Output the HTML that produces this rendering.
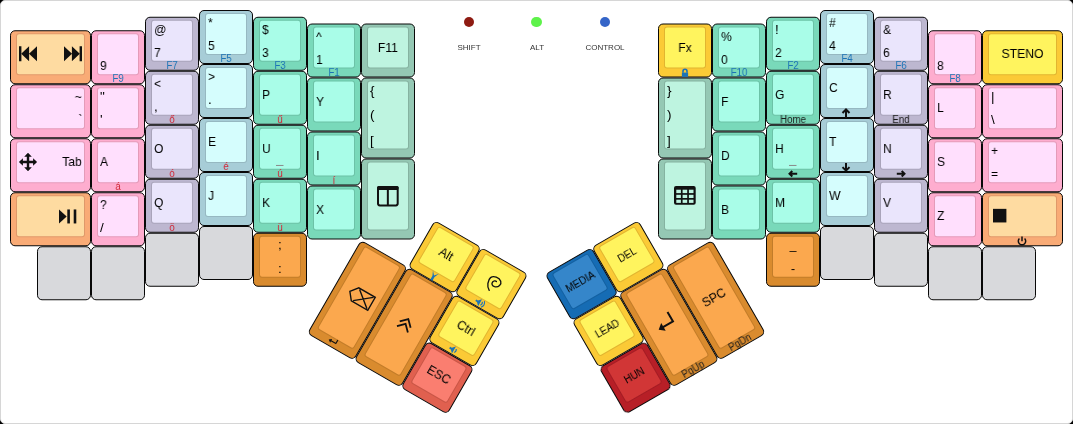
<!DOCTYPE html>
<html><head><meta charset="utf-8"><style>
html,body{margin:0;padding:0;background:#000;width:1073px;height:424px;overflow:hidden}
.bg{position:absolute;left:0;top:0;width:1073px;height:424px;box-sizing:border-box;background:#fff;border:1px solid #d6d6d6;border-radius:5px}
.k{position:absolute;box-sizing:border-box;border:1px solid #080808;border-radius:5px}
.k .t{position:absolute;left:5px;top:2px;right:5px;bottom:8px;border:1px solid rgba(0,0,0,.1);border-radius:3px;background-clip:padding-box}
.lg{position:absolute;will-change:transform;font-family:"Liberation Sans",sans-serif;font-size:13.5px;line-height:16px;color:#000;white-space:nowrap}
.lg{transform:scaleX(.9);transform-origin:0 0}
.lg.r{transform-origin:100% 0}
.lg.c{text-align:center;transform-origin:50% 0}
.lg.s{font-size:10px;line-height:12px;transform:none}
.lg.f{font-size:10px;line-height:12px;transform:scaleX(.97)}
.kl{position:absolute;box-sizing:border-box;border:1px solid transparent}
.rot{position:absolute;width:0;height:0;transform-origin:0 0}
.dot{position:absolute;width:10.5px;height:10.5px;border-radius:50%}
.dl{position:absolute;will-change:transform;width:80px;text-align:center;font-family:"Liberation Sans",sans-serif;font-size:8px;color:#333}
</style></head><body><div class="bg"></div>
<div class="dot" style="left:463.75px;top:16.55px;background:#8e1b12"></div><div class="dl" style="left:429px;top:43px">SHIFT</div>
<div class="dot" style="left:531.25px;top:16.55px;background:#5ef24a"></div><div class="dl" style="left:496.5px;top:43px">ALT</div>
<div class="dot" style="left:599.75px;top:16.55px;background:#3565c8"></div><div class="dl" style="left:565px;top:43px">CONTROL</div>
<div class="k" style="left:10px;top:30px;width:81px;height:54px;background:#f9ab76;transform:translateY(0.25px)"><div class="t" style="background-color:#fedba1"></div><svg style="position:absolute;left:-1px;top:-1px" width="81" height="54" viewBox="0 0 81 54"><g fill="#111"><rect x="9" y="16" width="2.4" height="15"/><path d="M11.2 23.5 L19.1 16 V31 Z M19 23.5 L27 16 V31 Z"/><rect x="69.6" y="16" width="2.4" height="15"/><path d="M69.8 23.5 L61.9 16 V31 Z M62 23.5 L54 16 V31 Z"/></g></svg></div>
<div class="k" style="left:10px;top:84px;width:81px;height:54px;background:#feadcf;transform:translateY(0.25px)"><div class="t" style="background-color:#ffdffd"></div></div>
<div class="kl" style="left:10px;top:84px;width:81px;height:54px"><span class="lg r" style="right:8px;top:4.25px">~</span><span class="lg r" style="right:8px;top:27.25px">`</span></div>
<div class="k" style="left:10px;top:138px;width:81px;height:54px;background:#feadcf;transform:translateY(0.25px)"><div class="t" style="background-color:#ffdffd"></div><svg style="position:absolute;left:-1px;top:-1px" width="81" height="54" viewBox="0 0 81 54"><g fill="#111"><path d="M18 16.5 V31 M10.8 23.7 H25.2" stroke="#111" stroke-width="2.4"/><path d="M18 14.6 L14.2 18.6 H21.8 Z M18 32.9 L14.2 28.9 H21.8 Z M8.9 23.7 L12.9 19.9 V27.5 Z M27.1 23.7 L23.1 19.9 V27.5 Z"/></g></svg></div>
<div class="kl" style="left:10px;top:138px;width:81px;height:54px"><span class="lg r" style="right:8px;top:15.45px">Tab</span></div>
<div class="k" style="left:10px;top:192px;width:81px;height:54px;background:#f9ab76;transform:translateY(0.25px)"><div class="t" style="background-color:#fedba1"></div><svg style="position:absolute;left:-1px;top:-1px" width="81" height="54" viewBox="0 0 81 54"><g fill="#111"><path d="M49 17.2 L56.7 24.2 L49 31.2 Z"/><rect x="57.3" y="17.2" width="2.6" height="14"/><rect x="63.7" y="17.2" width="2.6" height="14"/></g></svg></div>
<div class="k" style="left:37px;top:246px;width:54px;height:54px;background:#d8d9dc;transform:translateY(0.25px)"></div>
<div class="k" style="left:91px;top:30px;width:54px;height:54px;background:#feadcf;transform:translateY(0.25px)"><div class="t" style="background-color:#ffdffd"></div></div>
<div class="kl" style="left:91px;top:30px;width:54px;height:54px"><span class="lg" style="left:8px;top:27.25px">9</span><span class="lg c f" style="left:0;width:52px;top:42.25px;color:#1c74b6">F9</span></div>
<div class="k" style="left:91px;top:84px;width:54px;height:54px;background:#feadcf;transform:translateY(0.25px)"><div class="t" style="background-color:#ffdffd"></div></div>
<div class="kl" style="left:91px;top:84px;width:54px;height:54px"><span class="lg" style="left:8px;top:4.25px">"</span><span class="lg" style="left:8px;top:27.25px">'</span></div>
<div class="k" style="left:91px;top:138px;width:54px;height:54px;background:#feadcf;transform:translateY(0.25px)"><div class="t" style="background-color:#ffdffd"></div></div>
<div class="kl" style="left:91px;top:138px;width:54px;height:54px"><span class="lg" style="left:8px;top:15.45px">A</span><span class="lg c f" style="left:0;width:52px;top:42.25px;color:#d02a3a">á</span></div>
<div class="k" style="left:91px;top:192px;width:54px;height:54px;background:#feadcf;transform:translateY(0.25px)"><div class="t" style="background-color:#ffdffd"></div></div>
<div class="kl" style="left:91px;top:192px;width:54px;height:54px"><span class="lg" style="left:8px;top:4.25px">?</span><span class="lg" style="left:8px;top:27.25px">/</span></div>
<div class="k" style="left:91px;top:246px;width:54px;height:54px;background:#d8d9dc;transform:translateY(0.25px)"></div>
<div class="k" style="left:145px;top:16px;width:54px;height:54px;background:#bdb7d0;transform:translateY(0.75px)"><div class="t" style="background-color:#eae5fc"></div></div>
<div class="kl" style="left:145px;top:16px;width:54px;height:54px"><span class="lg" style="left:8px;top:4.75px">@</span><span class="lg" style="left:8px;top:27.75px">7</span><span class="lg c f" style="left:0;width:52px;top:42.75px;color:#1c74b6">F7</span></div>
<div class="k" style="left:145px;top:70px;width:54px;height:54px;background:#bdb7d0;transform:translateY(0.75px)"><div class="t" style="background-color:#eae5fc"></div></div>
<div class="kl" style="left:145px;top:70px;width:54px;height:54px"><span class="lg" style="left:8px;top:4.75px">&lt;</span><span class="lg" style="left:8px;top:27.75px">,</span><span class="lg c f" style="left:0;width:52px;top:42.75px;color:#d02a3a">ő</span></div>
<div class="k" style="left:145px;top:124px;width:54px;height:54px;background:#bdb7d0;transform:translateY(0.75px)"><div class="t" style="background-color:#eae5fc"></div></div>
<div class="kl" style="left:145px;top:124px;width:54px;height:54px"><span class="lg" style="left:8px;top:15.95px">O</span><span class="lg c f" style="left:0;width:52px;top:42.75px;color:#d02a3a">ó</span></div>
<div class="k" style="left:145px;top:178px;width:54px;height:54px;background:#bdb7d0;transform:translateY(0.75px)"><div class="t" style="background-color:#eae5fc"></div></div>
<div class="kl" style="left:145px;top:178px;width:54px;height:54px"><span class="lg" style="left:8px;top:15.95px">Q</span><span class="lg c f" style="left:0;width:52px;top:42.75px;color:#d02a3a">ö</span></div>
<div class="k" style="left:145px;top:232px;width:54px;height:54px;background:#d8d9dc;transform:translateY(0.75px)"></div>
<div class="k" style="left:199px;top:10px;width:54px;height:54px;background:#a7cdd7"><div class="t" style="background-color:#d5fdfd"></div></div>
<div class="kl" style="left:199px;top:10px;width:54px;height:54px"><span class="lg" style="left:8px;top:4px">*</span><span class="lg" style="left:8px;top:27px">5</span><span class="lg c f" style="left:0;width:52px;top:42px;color:#1c74b6">F5</span></div>
<div class="k" style="left:199px;top:64px;width:54px;height:54px;background:#a7cdd7"><div class="t" style="background-color:#d5fdfd"></div></div>
<div class="kl" style="left:199px;top:64px;width:54px;height:54px"><span class="lg" style="left:8px;top:4px">&gt;</span><span class="lg" style="left:8px;top:27px">.</span></div>
<div class="k" style="left:199px;top:118px;width:54px;height:54px;background:#a7cdd7"><div class="t" style="background-color:#d5fdfd"></div></div>
<div class="kl" style="left:199px;top:118px;width:54px;height:54px"><span class="lg" style="left:8px;top:15.2px">E</span><span class="lg c f" style="left:0;width:52px;top:42px;color:#d02a3a">é</span></div>
<div class="k" style="left:199px;top:172px;width:54px;height:54px;background:#a7cdd7"><div class="t" style="background-color:#d5fdfd"></div></div>
<div class="kl" style="left:199px;top:172px;width:54px;height:54px"><span class="lg" style="left:8px;top:15.2px">J</span></div>
<div class="k" style="left:199px;top:226px;width:54px;height:54px;background:#d8d9dc"></div>
<div class="k" style="left:253px;top:16px;width:54px;height:54px;background:#79d9ba;transform:translateY(0.75px)"><div class="t" style="background-color:#a9fde8"></div></div>
<div class="kl" style="left:253px;top:16px;width:54px;height:54px"><span class="lg" style="left:8px;top:4.75px">$</span><span class="lg" style="left:8px;top:27.75px">3</span><span class="lg c f" style="left:0;width:52px;top:42.75px;color:#1c74b6">F3</span></div>
<div class="k" style="left:253px;top:70px;width:54px;height:54px;background:#79d9ba;transform:translateY(0.75px)"><div class="t" style="background-color:#a9fde8"></div></div>
<div class="kl" style="left:253px;top:70px;width:54px;height:54px"><span class="lg" style="left:8px;top:15.95px">P</span><span class="lg c f" style="left:0;width:52px;top:42.75px;color:#d02a3a">ű</span></div>
<div class="k" style="left:253px;top:124px;width:54px;height:54px;background:#79d9ba;transform:translateY(0.75px)"><div class="t" style="background-color:#a9fde8"></div><svg style="position:absolute;left:-1px;top:-1px" width="54" height="54" viewBox="0 0 54 54"><rect x="23" y="40.2" width="7.5" height="1" fill="#8a8a8a"/></svg></div>
<div class="kl" style="left:253px;top:124px;width:54px;height:54px"><span class="lg" style="left:8px;top:15.95px">U</span><span class="lg c f" style="left:0;width:52px;top:42.75px;color:#d02a3a">ú</span></div>
<div class="k" style="left:253px;top:178px;width:54px;height:54px;background:#79d9ba;transform:translateY(0.75px)"><div class="t" style="background-color:#a9fde8"></div></div>
<div class="kl" style="left:253px;top:178px;width:54px;height:54px"><span class="lg" style="left:8px;top:15.95px">K</span><span class="lg c f" style="left:0;width:52px;top:42.75px;color:#d02a3a">ü</span></div>
<div class="k" style="left:253px;top:232px;width:54px;height:54px;background:#d98b2e;transform:translateY(0.75px)"><div class="t" style="background-color:#fba84e"></div></div>
<div class="kl" style="left:253px;top:232px;width:54px;height:54px"><span class="lg c" style="left:0;width:52px;top:4.25px">;</span><span class="lg c" style="left:0;width:52px;top:27.75px">:</span></div>
<div class="k" style="left:307px;top:23px;width:54px;height:54px;background:#79d9ba;transform:translateY(0.5px)"><div class="t" style="background-color:#a9fde8"></div></div>
<div class="kl" style="left:307px;top:23px;width:54px;height:54px"><span class="lg" style="left:8px;top:4.5px">^</span><span class="lg" style="left:8px;top:27.5px">1</span><span class="lg c f" style="left:0;width:52px;top:42.5px;color:#1c74b6">F1</span></div>
<div class="k" style="left:307px;top:77px;width:54px;height:54px;background:#79d9ba;transform:translateY(0.5px)"><div class="t" style="background-color:#a9fde8"></div></div>
<div class="kl" style="left:307px;top:77px;width:54px;height:54px"><span class="lg" style="left:8px;top:15.7px">Y</span></div>
<div class="k" style="left:307px;top:131px;width:54px;height:54px;background:#79d9ba;transform:translateY(0.5px)"><div class="t" style="background-color:#a9fde8"></div></div>
<div class="kl" style="left:307px;top:131px;width:54px;height:54px"><span class="lg" style="left:8px;top:15.7px">I</span><span class="lg c f" style="left:0;width:52px;top:42.5px;color:#d02a3a">í</span></div>
<div class="k" style="left:307px;top:185px;width:54px;height:54px;background:#79d9ba;transform:translateY(0.5px)"><div class="t" style="background-color:#a9fde8"></div></div>
<div class="kl" style="left:307px;top:185px;width:54px;height:54px"><span class="lg" style="left:8px;top:15.7px">X</span></div>
<div class="k" style="left:361px;top:23px;width:54px;height:54px;background:#95c8b4;transform:translateY(0.5px)"><div class="t" style="background-color:#bef4e0"></div></div>
<div class="kl" style="left:361px;top:23px;width:54px;height:54px"><span class="lg c" style="left:0;width:52px;top:15.7px">F11</span></div>
<div class="k" style="left:361px;top:77px;width:54px;height:81px;background:#95c8b4;transform:translateY(0.5px)"><div class="t" style="background-color:#bef4e0"></div></div>
<div class="kl" style="left:361px;top:77px;width:54px;height:81px"><span class="lg" style="left:8px;top:4.5px">{</span><span class="lg" style="left:8px;top:29.2px">(</span><span class="lg" style="left:8px;top:54.5px">[</span></div>
<div class="k" style="left:361px;top:158px;width:54px;height:81px;background:#95c8b4;transform:translateY(0.5px)"><div class="t" style="background-color:#bef4e0"></div><svg style="position:absolute;left:-1px;top:-1px" width="54" height="81" viewBox="0 0 54 81"><g fill="none" stroke="#111" stroke-width="2"><rect x="17" y="28.5" width="19.7" height="18.4" rx="1.8"/><path d="M26.85 29 V46.5 M17 30.5 H36.7" /></g><rect x="16" y="27.5" width="21.7" height="3.2" rx="1.5" fill="#111"/></svg></div>
<div class="k" style="left:658px;top:23px;width:54px;height:54px;background:#fbca36;transform:translateY(0.5px)"><div class="t" style="background-color:#fff45e"></div><svg style="position:absolute;left:-1px;top:-1px" width="54" height="54" viewBox="0 0 54 54"><g fill="#1c74b6"><rect x="23.9" y="49.1" width="6.2" height="4.3"/><path d="M25 49.3 V47.8 A2 2 0 0 1 29 47.8 V49.3" fill="none" stroke="#1c74b6" stroke-width="1.6"/></g></svg></div>
<div class="kl" style="left:658px;top:23px;width:54px;height:54px"><span class="lg c" style="left:0;width:52px;top:15.7px">Fx</span></div>
<div class="k" style="left:658px;top:77px;width:54px;height:81px;background:#95c8b4;transform:translateY(0.5px)"><div class="t" style="background-color:#bef4e0"></div></div>
<div class="kl" style="left:658px;top:77px;width:54px;height:81px"><span class="lg" style="left:8px;top:4.5px">}</span><span class="lg" style="left:8px;top:29.2px">)</span><span class="lg" style="left:8px;top:54.5px">]</span></div>
<div class="k" style="left:658px;top:158px;width:54px;height:81px;background:#95c8b4;transform:translateY(0.5px)"><div class="t" style="background-color:#bef4e0"></div><svg style="position:absolute;left:-1px;top:-1px" width="54" height="81" viewBox="0 0 54 81"><rect x="16" y="27.5" width="21.7" height="18.8" rx="2" fill="#111"/><g fill="#bef4e0"><rect x="18.3" y="31.2" width="4.6" height="3.4"/><rect x="24.6" y="31.2" width="4.6" height="3.4"/><rect x="30.9" y="31.2" width="4.6" height="3.4"/><rect x="18.3" y="36.3" width="4.6" height="3.2"/><rect x="24.6" y="36.3" width="4.6" height="3.2"/><rect x="30.9" y="36.3" width="4.6" height="3.2"/><rect x="18.3" y="41.2" width="4.6" height="3.2"/><rect x="24.6" y="41.2" width="4.6" height="3.2"/><rect x="30.9" y="41.2" width="4.6" height="3.2"/></g></svg></div>
<div class="k" style="left:712px;top:23px;width:54px;height:54px;background:#79d9ba;transform:translateY(0.5px)"><div class="t" style="background-color:#a9fde8"></div></div>
<div class="kl" style="left:712px;top:23px;width:54px;height:54px"><span class="lg" style="left:8px;top:4.5px">%</span><span class="lg" style="left:8px;top:27.5px">0</span><span class="lg c f" style="left:0;width:52px;top:42.5px;color:#1c74b6">F10</span></div>
<div class="k" style="left:712px;top:77px;width:54px;height:54px;background:#79d9ba;transform:translateY(0.5px)"><div class="t" style="background-color:#a9fde8"></div></div>
<div class="kl" style="left:712px;top:77px;width:54px;height:54px"><span class="lg" style="left:8px;top:15.7px">F</span></div>
<div class="k" style="left:712px;top:131px;width:54px;height:54px;background:#79d9ba;transform:translateY(0.5px)"><div class="t" style="background-color:#a9fde8"></div></div>
<div class="kl" style="left:712px;top:131px;width:54px;height:54px"><span class="lg" style="left:8px;top:15.7px">D</span></div>
<div class="k" style="left:712px;top:185px;width:54px;height:54px;background:#79d9ba;transform:translateY(0.5px)"><div class="t" style="background-color:#a9fde8"></div></div>
<div class="kl" style="left:712px;top:185px;width:54px;height:54px"><span class="lg" style="left:8px;top:15.7px">B</span></div>
<div class="k" style="left:766px;top:16px;width:54px;height:54px;background:#79d9ba;transform:translateY(0.75px)"><div class="t" style="background-color:#a9fde8"></div></div>
<div class="kl" style="left:766px;top:16px;width:54px;height:54px"><span class="lg" style="left:8px;top:4.75px">!</span><span class="lg" style="left:8px;top:27.75px">2</span><span class="lg c f" style="left:0;width:52px;top:42.75px;color:#1c74b6">F2</span></div>
<div class="k" style="left:766px;top:70px;width:54px;height:54px;background:#79d9ba;transform:translateY(0.75px)"><div class="t" style="background-color:#a9fde8"></div></div>
<div class="kl" style="left:766px;top:70px;width:54px;height:54px"><span class="lg" style="left:8px;top:15.95px">G</span><span class="lg c f" style="left:0;width:52px;top:42.75px;color:#1a1a1a">Home</span></div>
<div class="k" style="left:766px;top:124px;width:54px;height:54px;background:#79d9ba;transform:translateY(0.75px)"><div class="t" style="background-color:#a9fde8"></div><svg style="position:absolute;left:-1px;top:-1px" width="54" height="54" viewBox="0 0 54 54"><rect x="23" y="40.2" width="7.5" height="1" fill="#8a8a8a"/></svg><svg style="position:absolute;left:-1px;top:-1px" width="54" height="54" viewBox="0 0 54 54"><path d="M23.5 49 H31.2 M26.3 46.2 L23.5 49 L26.3 51.8" fill="none" stroke="#111" stroke-width="2"/></svg></div>
<div class="kl" style="left:766px;top:124px;width:54px;height:54px"><span class="lg" style="left:8px;top:15.95px">H</span></div>
<div class="k" style="left:766px;top:178px;width:54px;height:54px;background:#79d9ba;transform:translateY(0.75px)"><div class="t" style="background-color:#a9fde8"></div></div>
<div class="kl" style="left:766px;top:178px;width:54px;height:54px"><span class="lg" style="left:8px;top:15.95px">M</span></div>
<div class="k" style="left:766px;top:232px;width:54px;height:54px;background:#d98b2e;transform:translateY(0.75px)"><div class="t" style="background-color:#fba84e"></div></div>
<div class="kl" style="left:766px;top:232px;width:54px;height:54px"><span class="lg c" style="left:0;width:52px;top:4.25px">_</span><span class="lg c" style="left:0;width:52px;top:27.75px">-</span></div>
<div class="k" style="left:820px;top:10px;width:54px;height:54px;background:#a7cdd7"><div class="t" style="background-color:#d5fdfd"></div></div>
<div class="kl" style="left:820px;top:10px;width:54px;height:54px"><span class="lg" style="left:8px;top:4px">#</span><span class="lg" style="left:8px;top:27px">4</span><span class="lg c f" style="left:0;width:52px;top:42px;color:#1c74b6">F4</span></div>
<div class="k" style="left:820px;top:64px;width:54px;height:54px;background:#a7cdd7"><div class="t" style="background-color:#d5fdfd"></div><svg style="position:absolute;left:-1px;top:-1px" width="54" height="54" viewBox="0 0 54 54"><path d="M26 54 V45.5 M22.5 49 L26 45.5 L29.5 49" fill="none" stroke="#111" stroke-width="2"/></svg></div>
<div class="kl" style="left:820px;top:64px;width:54px;height:54px"><span class="lg" style="left:8px;top:15.2px">C</span></div>
<div class="k" style="left:820px;top:118px;width:54px;height:54px;background:#a7cdd7"><div class="t" style="background-color:#d5fdfd"></div><svg style="position:absolute;left:-1px;top:-1px" width="54" height="54" viewBox="0 0 54 54"><path d="M26 44.9 V52.6 M22.5 49.1 L26 52.6 L29.5 49.1" fill="none" stroke="#111" stroke-width="2"/></svg></div>
<div class="kl" style="left:820px;top:118px;width:54px;height:54px"><span class="lg" style="left:8px;top:15.2px">T</span></div>
<div class="k" style="left:820px;top:172px;width:54px;height:54px;background:#a7cdd7"><div class="t" style="background-color:#d5fdfd"></div></div>
<div class="kl" style="left:820px;top:172px;width:54px;height:54px"><span class="lg" style="left:8px;top:15.2px">W</span></div>
<div class="k" style="left:820px;top:226px;width:54px;height:54px;background:#d8d9dc"></div>
<div class="k" style="left:874px;top:16px;width:54px;height:54px;background:#bdb7d0;transform:translateY(0.75px)"><div class="t" style="background-color:#eae5fc"></div></div>
<div class="kl" style="left:874px;top:16px;width:54px;height:54px"><span class="lg" style="left:8px;top:4.75px">&amp;</span><span class="lg" style="left:8px;top:27.75px">6</span><span class="lg c f" style="left:0;width:52px;top:42.75px;color:#1c74b6">F6</span></div>
<div class="k" style="left:874px;top:70px;width:54px;height:54px;background:#bdb7d0;transform:translateY(0.75px)"><div class="t" style="background-color:#eae5fc"></div></div>
<div class="kl" style="left:874px;top:70px;width:54px;height:54px"><span class="lg" style="left:8px;top:15.95px">R</span><span class="lg c f" style="left:0;width:52px;top:42.75px;color:#1a1a1a">End</span></div>
<div class="k" style="left:874px;top:124px;width:54px;height:54px;background:#bdb7d0;transform:translateY(0.75px)"><div class="t" style="background-color:#eae5fc"></div><svg style="position:absolute;left:-1px;top:-1px" width="54" height="54" viewBox="0 0 54 54"><path d="M22.8 49 H30.5 M27.7 46.2 L30.5 49 L27.7 51.8" fill="none" stroke="#111" stroke-width="2"/></svg></div>
<div class="kl" style="left:874px;top:124px;width:54px;height:54px"><span class="lg" style="left:8px;top:15.95px">N</span></div>
<div class="k" style="left:874px;top:178px;width:54px;height:54px;background:#bdb7d0;transform:translateY(0.75px)"><div class="t" style="background-color:#eae5fc"></div></div>
<div class="kl" style="left:874px;top:178px;width:54px;height:54px"><span class="lg" style="left:8px;top:15.95px">V</span></div>
<div class="k" style="left:874px;top:232px;width:54px;height:54px;background:#d8d9dc;transform:translateY(0.75px)"></div>
<div class="k" style="left:928px;top:30px;width:54px;height:54px;background:#feadcf;transform:translateY(0.25px)"><div class="t" style="background-color:#ffdffd"></div></div>
<div class="kl" style="left:928px;top:30px;width:54px;height:54px"><span class="lg" style="left:8px;top:27.25px">8</span><span class="lg c f" style="left:0;width:52px;top:42.25px;color:#1c74b6">F8</span></div>
<div class="k" style="left:928px;top:84px;width:54px;height:54px;background:#feadcf;transform:translateY(0.25px)"><div class="t" style="background-color:#ffdffd"></div></div>
<div class="kl" style="left:928px;top:84px;width:54px;height:54px"><span class="lg" style="left:8px;top:15.45px">L</span></div>
<div class="k" style="left:928px;top:138px;width:54px;height:54px;background:#feadcf;transform:translateY(0.25px)"><div class="t" style="background-color:#ffdffd"></div></div>
<div class="kl" style="left:928px;top:138px;width:54px;height:54px"><span class="lg" style="left:8px;top:15.45px">S</span></div>
<div class="k" style="left:928px;top:192px;width:54px;height:54px;background:#feadcf;transform:translateY(0.25px)"><div class="t" style="background-color:#ffdffd"></div></div>
<div class="kl" style="left:928px;top:192px;width:54px;height:54px"><span class="lg" style="left:8px;top:15.45px">Z</span></div>
<div class="k" style="left:928px;top:246px;width:54px;height:54px;background:#d8d9dc;transform:translateY(0.25px)"></div>
<div class="k" style="left:982px;top:30px;width:81px;height:54px;background:#fbca36;transform:translateY(0.25px)"><div class="t" style="background-color:#fff45e"></div></div>
<div class="kl" style="left:982px;top:30px;width:81px;height:54px"><span class="lg c" style="left:0;width:79.0px;top:15.45px">STENO</span></div>
<div class="k" style="left:982px;top:84px;width:81px;height:54px;background:#feadcf;transform:translateY(0.25px)"><div class="t" style="background-color:#ffdffd"></div></div>
<div class="kl" style="left:982px;top:84px;width:81px;height:54px"><span class="lg" style="left:8px;top:4.25px">|</span><span class="lg" style="left:8px;top:27.25px">\</span></div>
<div class="k" style="left:982px;top:138px;width:81px;height:54px;background:#feadcf;transform:translateY(0.25px)"><div class="t" style="background-color:#ffdffd"></div></div>
<div class="kl" style="left:982px;top:138px;width:81px;height:54px"><span class="lg" style="left:8px;top:4.25px">+</span><span class="lg" style="left:8px;top:27.25px">=</span></div>
<div class="k" style="left:982px;top:192px;width:81px;height:54px;background:#f9ab76;transform:translateY(0.25px)"><div class="t" style="background-color:#fedba1"></div><svg style="position:absolute;left:-1px;top:-1px" width="81" height="54" viewBox="0 0 81 54"><rect x="11" y="16.6" width="13.4" height="13.6" fill="#111"/></svg><svg style="position:absolute;left:-1px;top:-1px" width="81" height="54" viewBox="0 0 81 54"><g fill="none" stroke="#111" stroke-width="1.5"><path d="M37.4 46.2 A3.7 3.7 0 1 0 42.6 46.2"/><path d="M40 44.3 V49"/></g></svg></div>
<div class="k" style="left:982px;top:246px;width:54px;height:54px;background:#d8d9dc;transform:translateY(0.25px)"></div>
<div class="rot" style="left:361.0px;top:239.5px;transform:rotate(30deg)"><div class="k" style="left:54px;top:-54px;width:54px;height:54px;background:#fbca36"><div class="t" style="background-color:#fff45e"></div><svg style="position:absolute;left:-1px;top:-1px" width="54" height="54" viewBox="0 0 54 54"><g transform="translate(0,0.8)" fill="#1c74b6"><path d="M23.5 43.5 L27 47.5 L30.5 43.5 L28.2 48.5 L28.2 53 L25.8 53 L25.8 48.5 Z"/></g></svg></div>
<div class="kl" style="left:54px;top:-54px;width:54px;height:54px"><span class="lg c" style="left:0;width:52px;top:15.2px">Alt</span></div>
<div class="k" style="left:108px;top:-54px;width:54px;height:54px;background:#fbca36"><div class="t" style="background-color:#fff45e"></div><svg style="position:absolute;left:-1px;top:-1px" width="54" height="54" viewBox="0 0 54 54"><g fill="none" stroke="#111" stroke-width="1.35" stroke-linecap="round"><path d="M28.2 33.5 C24 31.5 21.8 25 23 21.8 C24.5 18.3 30.5 17.2 33.6 19.8 C36 22 35 26.5 31 27.6 C28.6 28.2 26.6 26.8 27 24.6 C27.3 22.8 28.8 21.8 30 22.2"/></g></svg><svg style="position:absolute;left:-1px;top:-1px" width="54" height="54" viewBox="0 0 54 54"><g transform="translate(0,0.8)" fill="#1c74b6"><path d="M21.5 47 H23.5 L26.5 44 V52 L23.5 49 H21.5 Z"/><path d="M28 46 Q29.5 48 28 50 M29.5 44.5 Q32.5 48 29.5 51.5" fill="none" stroke="#1c74b6" stroke-width="1.1"/></g></svg></div>
<div class="k" style="left:0px;top:0px;width:54px;height:108px;background:#d98b2e"><div class="t" style="background-color:#fba84e"></div><svg style="position:absolute;left:-1px;top:-1px" width="54" height="108" viewBox="0 0 54 108"><g fill="none" stroke="#111" stroke-width="1.4" transform="translate(1.5,4)"><path d="M14.5 46 L20.5 38.5 H39.5 V53.5 H20.5 Z M22 39.5 L38 52.5 M38 39.5 L22 52.5"/></g></svg><svg style="position:absolute;left:-1px;top:-1px" width="54" height="108" viewBox="0 0 54 108"><path d="M30 98.3 V102.3 H24" fill="none" stroke="#111" stroke-width="1.1"/><path d="M21.8 102.3 L24.6 100.2 V104.4 Z" fill="#111"/></svg></div>
<div class="k" style="left:54px;top:0px;width:54px;height:108px;background:#d98b2e"><div class="t" style="background-color:#fba84e"></div><svg style="position:absolute;left:-1px;top:-1px" width="54" height="108" viewBox="0 0 54 108"><g fill="none" stroke="#111" stroke-width="1.8"><path d="M20.2 51.1 L26.5 44.8 L32.8 51.1 M20.2 56.6 L26.5 50.3 L32.8 56.6"/></g></svg></div>
<div class="k" style="left:108px;top:0px;width:54px;height:54px;background:#fbca36"><div class="t" style="background-color:#fff45e"></div><svg style="position:absolute;left:-1px;top:-1px" width="54" height="54" viewBox="0 0 54 54"><g transform="translate(0,0.8)" fill="#1c74b6"><path d="M22.5 47 H24.5 L27.5 44 V52 L24.5 49 H22.5 Z"/><path d="M29 46 Q30.5 48 29 50" fill="none" stroke="#1c74b6" stroke-width="1.1"/></g></svg></div>
<div class="kl" style="left:108px;top:0px;width:54px;height:54px"><span class="lg c" style="left:0;width:52px;top:15.2px">Ctrl</span></div>
<div class="k" style="left:108px;top:54px;width:54px;height:54px;background:#e0604f"><div class="t" style="background-color:#fa7e70"></div></div>
<div class="kl" style="left:108px;top:54px;width:54px;height:54px"><span class="lg c" style="left:0;width:52px;top:15.2px">ESC</span></div>
</div>
<div class="rot" style="left:712px;top:239.5px;transform:rotate(-30deg)"><div class="k" style="left:-162px;top:-54px;width:54px;height:54px;background:#166cb4"><div class="t" style="background-color:#3586ca"></div></div>
<div class="kl" style="left:-162px;top:-54px;width:54px;height:54px"><span class="lg c s" style="left:0;width:52px;top:18.0px">MEDIA</span></div>
<div class="k" style="left:-108px;top:-54px;width:54px;height:54px;background:#fbca36"><div class="t" style="background-color:#fff45e"></div></div>
<div class="kl" style="left:-108px;top:-54px;width:54px;height:54px"><span class="lg c s" style="left:0;width:52px;top:18.0px">DEL</span></div>
<div class="k" style="left:-162px;top:0px;width:54px;height:54px;background:#fbca36"><div class="t" style="background-color:#fff45e"></div></div>
<div class="kl" style="left:-162px;top:0px;width:54px;height:54px"><span class="lg c s" style="left:0;width:52px;top:18.0px">LEAD</span></div>
<div class="k" style="left:-108px;top:0px;width:54px;height:108px;background:#d98b2e"><div class="t" style="background-color:#fba84e"></div><svg style="position:absolute;left:-1px;top:-1px" width="54" height="108" viewBox="0 0 54 108"><g transform="translate(-1.5,3)"><path d="M35 37 V48 H23" fill="none" stroke="#111" stroke-width="2"/><path d="M18.5 48 L24 43.5 V52.5 Z" fill="#111"/></g></svg></div>
<div class="kl" style="left:-108px;top:0px;width:54px;height:108px"><span class="lg c f" style="left:0;width:52px;top:96px;color:#1a1a1a">PgUp</span></div>
<div class="k" style="left:-54px;top:0px;width:54px;height:108px;background:#d98b2e"><div class="t" style="background-color:#fba84e"></div></div>
<div class="kl" style="left:-54px;top:0px;width:54px;height:108px"><span class="lg c" style="left:0;width:52px;top:42.2px">SPC</span><span class="lg c f" style="left:0;width:52px;top:96px;color:#1a1a1a">PgDn</span></div>
<div class="k" style="left:-162px;top:54px;width:54px;height:54px;background:#b71f27"><div class="t" style="background-color:#d13636"></div></div>
<div class="kl" style="left:-162px;top:54px;width:54px;height:54px"><span class="lg c s" style="left:0;width:52px;top:18.0px">HUN</span></div>
</div>
</body></html>
